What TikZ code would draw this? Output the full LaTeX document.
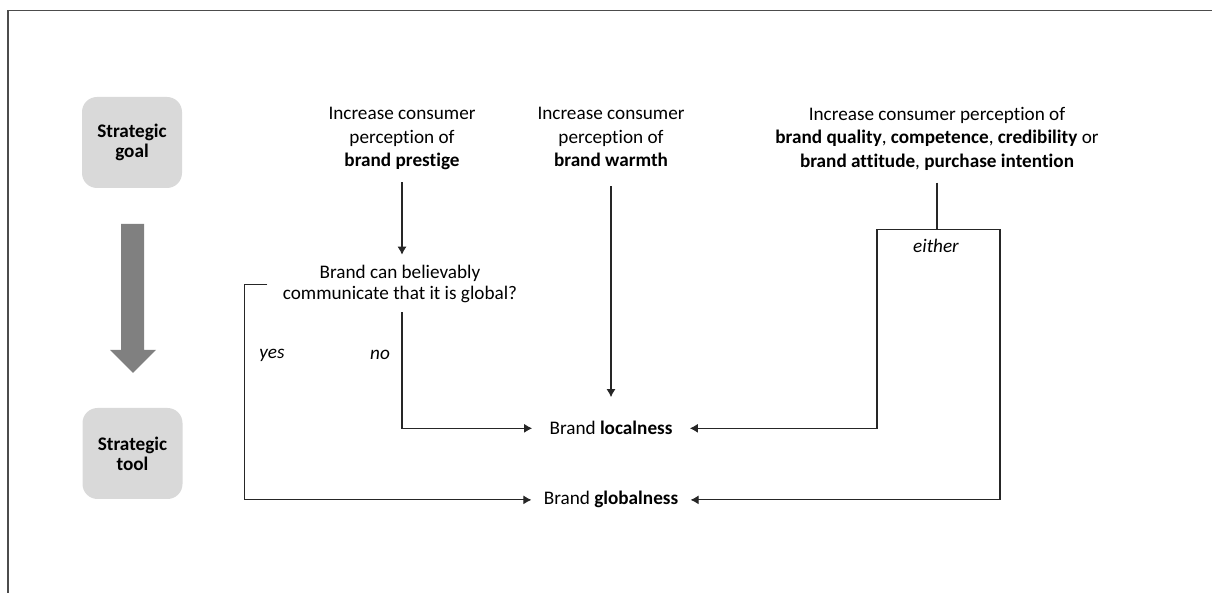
\documentclass[tikz,border=0pt]{standalone}
\usepackage{fontspec}
\setmainfont{Carlito}[Ligatures=NoCommon]
\usetikzlibrary{arrows.meta}
\begin{document}
\begin{tikzpicture}[x=0.5pt,y=-0.5pt,
  font=\fontsize{9.6pt}{11.75pt}\selectfont,
  goal/.style={align=center, inner sep=0pt, text depth=2pt, anchor=north},
  ques/.style={align=center, inner sep=0pt, text depth=2pt, anchor=north,
    font=\fontsize{9.6pt}{10.75pt}\selectfont},
  box/.style={fill=black!15, rounded corners=7.5pt, minimum width=50pt,
    minimum height=45.5pt, inner sep=0pt, align=center,
    font=\fontsize{9.6pt}{10pt}\selectfont\bfseries},
  frame/.style={draw=black!70, line width=0.8pt},
  conn/.style={draw=black!85, line width=0.55pt},
  arr/.style={conn, -{Latex[length=4pt,width=4.5pt]}},
  lab/.style={font=\fontsize{9.6pt}{11.75pt}\selectfont\itshape, inner sep=0pt},
  tool/.style={inner sep=0pt, anchor=base}
]
\useasboundingbox (0,0) rectangle (1212,593);
\draw[frame] (8,593) -- (8,10.5) -- (1212,10.5);

% left column
\node[box] (sg) at (132,142.5) {Strategic\\goal};
\node[box] (st) at (132.5,453.5) {Strategic\\tool};
\fill[black!50] (121,224) -- (144,224) -- (144,350) -- (156,350) -- (133,373)
  -- (110,350) -- (121,350) -- cycle;

% goals
\node[goal] (prestige) at (402,107) {Increase consumer\\perception of\\\textbf{brand prestige}};
\node[goal] (warmth) at (611,107) {Increase consumer\\perception of\\\textbf{brand warmth}};
\node[goal] (third) at (937,106.5) {Increase consumer perception of\\\textbf{brand quality}, \textbf{competence}, \textbf{credibility} or\\\textbf{brand attitude}, \textbf{purchase intention}};

% question
\node[ques] (q) at (400,264.7) {Brand can believably\\communicate that it is global?};

% tools
\node[tool, inner xsep=8.5pt] (loc) at (611,435) {Brand \textbf{localness}};
\node[tool, inner xsep=6pt] (glob) at (611,505) {Brand \textbf{globalness}};

% labels
\node[lab] (yes) at (272,355) {yes};
\node[lab] (no) at (380,355) {no};
\node[lab] (either) at (936,246) {either};

% connectors
\draw[arr] ([yshift=-5.5pt]prestige.south) -- ([yshift=5pt]q.north -| prestige.south);
\draw[arr] ([yshift=-7.5pt]warmth.south) -- ([yshift=12pt]loc.north -| warmth.south);
\draw[arr] ([yshift=-4pt]q.south -| prestige.south) |- (loc.west);
\draw[arr] ([xshift=-7.5pt]q.west) -- ++(-23,0) |- (glob.west);
\draw[conn] ([yshift=-5.5pt]third.south) -- ++(0,47) coordinate (bt);
\draw[arr] (bt) -- ++(-60,0) |- (loc.east);
\draw[arr] (bt) -- ++(63,0) |- (glob.east);
\end{tikzpicture}
\end{document}
